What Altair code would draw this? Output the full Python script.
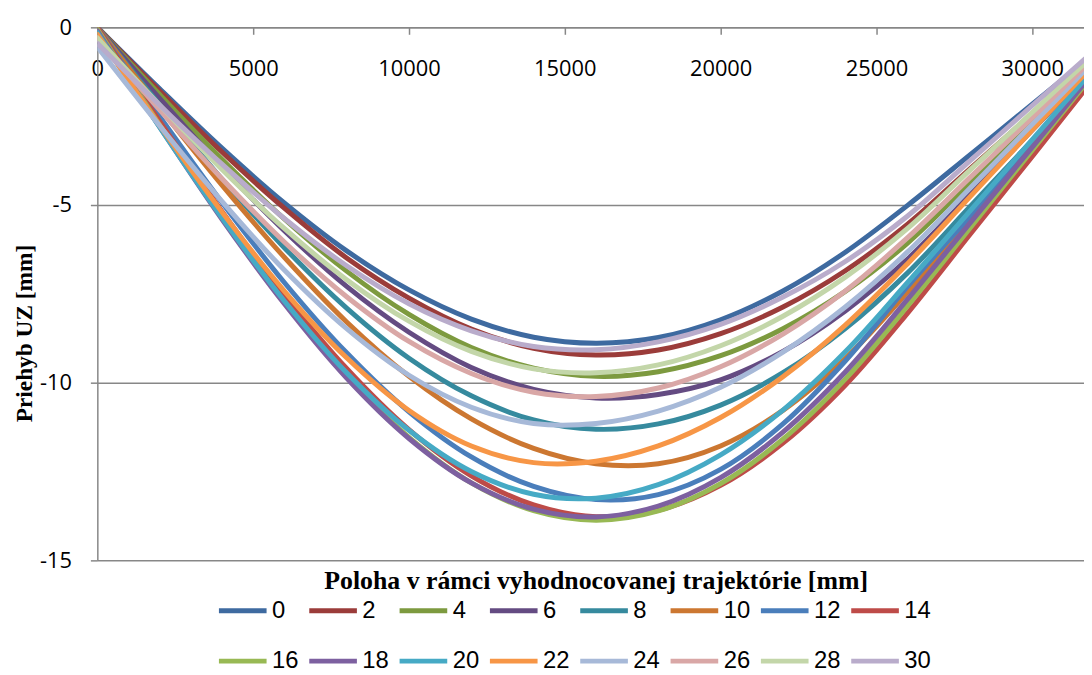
import altair as alt
import pandas as pd

# positions along the evaluated trajectory [mm]
x_mm = [0, 2000, 4000, 6000, 8000, 10000, 12000, 14000, 16000, 18000,
        20000, 22000, 24000, 26000, 28000, 30000, 31700]

# deflection values [mm], one list per series
s00 = [0, -1.73, -3.40, -4.94, -6.29, -7.39, -8.21, -8.72, -8.89, -8.73, -8.23, -7.42, -6.33, -5.01, -3.59, -2.16, -0.95]
s02 = [0, -1.79, -3.51, -5.09, -6.49, -7.62, -8.49, -9.03, -9.22, -9.08, -8.62, -7.87, -6.85, -5.54, -3.98, -2.43, -1.10]
s04 = [0, -1.89, -3.71, -5.39, -6.86, -8.08, -9.01, -9.59, -9.82, -9.69, -9.24, -8.48, -7.43, -6.07, -4.38, -2.69, -1.25]
s06 = [0, -2.00, -3.94, -5.72, -7.29, -8.58, -9.57, -10.19, -10.43, -10.33, -9.92, -9.12, -7.98, -6.52, -4.71, -2.89, -1.35]
s08 = [0, -2.18, -4.27, -6.20, -7.90, -9.31, -10.37, -11.05, -11.31, -11.16, -10.63, -9.72, -8.48, -6.91, -5.05, -3.18, -1.60]
s10 = [0, -2.26, -4.44, -6.47, -8.29, -9.82, -11.02, -11.85, -12.28, -12.28, -11.78, -10.78, -9.32, -7.45, -5.40, -3.35, -1.60]
s12 = [0, -2.51, -4.93, -7.18, -9.16, -10.82, -12.09, -12.92, -13.29, -13.15, -12.44, -11.16, -9.39, -7.29, -5.33, -3.37, -1.70]
s14 = [0, -2.64, -5.18, -7.53, -9.60, -11.32, -12.62, -13.44, -13.77, -13.59, -12.89, -11.70, -10.07, -8.04, -5.83, -3.63, -1.75]
s16 = [-0.05, -2.75, -5.34, -7.73, -9.82, -11.54, -12.82, -13.60, -13.87, -13.61, -12.84, -11.59, -9.90, -7.84, -5.65, -3.46, -1.60]
s18 = [-0.10, -2.80, -5.40, -7.78, -9.87, -11.57, -12.82, -13.56, -13.78, -13.47, -12.67, -11.39, -9.70, -7.65, -5.51, -3.37, -1.55]
s20 = [-0.15, -2.81, -5.36, -7.70, -9.72, -11.34, -12.50, -13.14, -13.25, -12.87, -12.03, -10.77, -9.13, -7.18, -5.17, -3.16, -1.45]
s22 = [-0.20, -2.76, -5.20, -7.42, -9.30, -10.78, -11.78, -12.25, -12.21, -11.78, -10.98, -9.83, -8.38, -6.65, -4.77, -2.89, -1.30]
s24 = [-0.55, -2.77, -4.90, -6.83, -8.48, -9.79, -10.69, -11.15, -11.15, -10.80, -10.13, -9.14, -7.87, -6.32, -4.53, -2.73, -1.20]
s26 = [-0.30, -2.32, -4.26, -6.04, -7.58, -8.84, -9.74, -10.27, -10.39, -10.15, -9.55, -8.63, -7.42, -5.92, -4.23, -2.54, -1.10]
s28 = [-0.30, -2.19, -4.00, -5.66, -7.10, -8.27, -9.12, -9.61, -9.72, -9.50, -8.96, -8.13, -7.03, -5.66, -4.02, -2.39, -1.00]
s30 = [-0.45, -2.19, -3.85, -5.38, -6.71, -7.78, -8.54, -8.98, -9.07, -8.85, -8.36, -7.59, -6.59, -5.31, -3.76, -2.20, -0.88]

series_names = ["0", "2", "4", "6", "8", "10", "12", "14",
                "16", "18", "20", "22", "24", "26", "28", "30"]
series_values = [s00, s02, s04, s06, s08, s10, s12, s14,
                 s16, s18, s20, s22, s24, s26, s28, s30]
series_colors = ["#3E6AA0", "#9B3C3A", "#7D9A3F", "#644B82", "#368A9E", "#CC7731",
                 "#4A7EBB", "#BE4B48", "#98B954", "#7D60A0", "#46AAC5", "#F79646",
                 "#A7B9D8", "#D9A7A6", "#C3D6A9", "#B9ACCB"]

x_ticks = [0, 5000, 10000, 15000, 20000, 25000, 30000]
y_ticks = [-15, -10, -5, 0]

rows = []
for name, ys in zip(series_names, series_values):
    for xv, yv in zip(x_mm, ys):
        rows.append({"x": xv, "y": yv, "s": name})
df = pd.DataFrame(rows)

GRAY = "#878787"
PLOT_W, PLOT_H = 994, 537

chart = alt.Chart(df).mark_line(
    strokeWidth=5, interpolate="catmull-rom", clip=True, strokeCap="round"
).encode(
    x=alt.X(
        "x:Q",
        scale=alt.Scale(domain=[0, 31660], nice=False, zero=False),
        axis=alt.Axis(
            orient="bottom", offset=-PLOT_H, values=x_ticks,
            labelExpr="'' + datum.value", labelFlush=False, labelOverlap=False,
            labelFont="Open Sans", labelFontSize=22, labelColor="black",
            labelPadding=25, tickSize=7, tickColor=GRAY, tickWidth=1.5,
            domainColor=GRAY, domainWidth=1.5, grid=False,
            title="Poloha v rámci vyhodnocovanej trajektórie [mm]",
            titleFont="Liberation Serif", titleFontWeight="bold", titleFontSize=26,
            titleColor="black", titleX=502, titleY=557,
            titleAlign="center", titleBaseline="middle",
        ),
    ),
    y=alt.Y(
        "y:Q",
        scale=alt.Scale(domain=[-15, 0], nice=False, zero=False),
        axis=alt.Axis(
            values=y_ticks, labelExpr="'' + datum.value",
            labelFont="Open Sans", labelFontSize=22, labelColor="black",
            labelPadding=19, tickSize=7, tickColor=GRAY, tickWidth=1.5,
            domainColor=GRAY, domainWidth=1.5,
            grid=True, gridColor=GRAY, gridWidth=1.5,
            title="Priehyb UZ [mm]",
            titleFont="Liberation Serif", titleFontWeight="bold", titleFontSize=23.5,
            titleColor="black", titleX=-73, titleY=308, titleAngle=270,
            titleAlign="center", titleBaseline="middle",
        ),
    ),
    color=alt.Color(
        "s:N", sort=series_names, title=None,
        scale=alt.Scale(domain=series_names, range=series_colors),
        legend=alt.Legend(
            orient="none", legendX=120, legendY=561, direction="horizontal",
            columns=8, symbolType="stroke", symbolSize=2304, symbolStrokeWidth=5,
            labelFont="Liberation Sans",
            labelFontSize=24, labelColor="black", labelOffset=3,
            columnPadding=0, rowPadding=12, padding=0,
        ),
    ),
).properties(
    width=PLOT_W, height=PLOT_H,
    autosize=alt.AutoSizeParams(type="none"),
    padding={"left": 90, "top": 17, "right": 0, "bottom": 113},
    background="white",
).configure_view(strokeWidth=0)

chart.save("out.html", embed_options={"renderer": "svg", "actions": False})
